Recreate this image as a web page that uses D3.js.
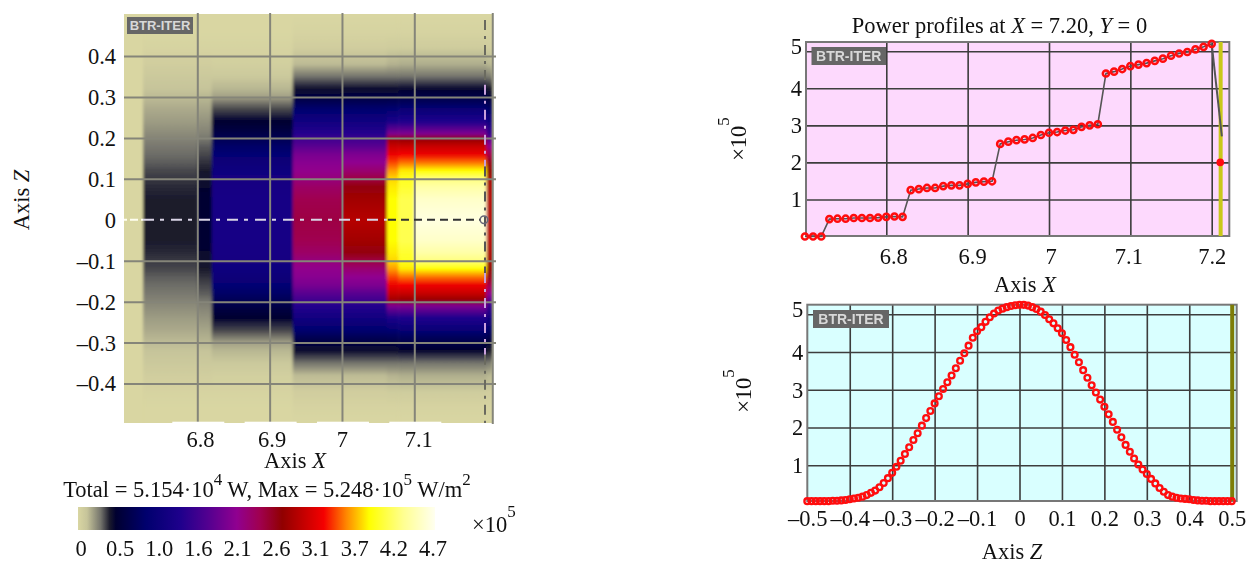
<!DOCTYPE html>
<html><head><meta charset="utf-8">
<script src="https://cdn.jsdelivr.net/npm/d3@7"></script>
<style>
html,body{margin:0;padding:0;background:#fff}
svg{display:block}
text{font-family:"Liberation Serif",serif;fill:#111}
.badge{font-family:"Liberation Sans",sans-serif;font-weight:700;fill:#d8d8d8}
</style></head><body>
<svg id="c" width="1249" height="563"></svg>
<script>
// ---------- heat map data ----------
const zRows = [0,.05,.08,.1,.12,.14,.16,.18,.195,.21,.24,.27,.3,.32,.35,.38,.42,.46,.5];
const xEdges = [6.699,6.725,6.80,6.82,6.932,7.0,7.062,7.078,7.10,7.2,7.2076];
const heatColumns = [
 [0,0,0,0,0,0,0,0,0,0,0,0,0,0,0,0,0,0,0],
 [.42,.42,.40,.38,.36,.33,.31,.29,.27,.25,.21,.18,.14,.12,.09,.06,.02,0,0],
 [.52,.50,.48,.45,.42,.39,.36,.33,.30,.27,.23,.19,.15,.12,.09,.06,.02,0,0],
 [1.25,1.25,1.22,1.18,1.12,1.05,.98,.85,.75,.65,.5,.36,.2,.15,.09,.05,.02,0,0],
 [2.45,2.4,2.3,2.2,2.12,2.05,1.95,1.75,1.6,1.4,1.15,.9,.6,.45,.3,.14,.06,.02,0],
 [2.9,2.8,2.65,2.45,2.25,2.1,1.98,1.75,1.6,1.4,1.15,.9,.62,.46,.3,.14,.06,.02,0],
 [3.85,3.85,3.8,3.75,3.6,3.4,3.2,3.0,2.8,2.0,1.3,.95,.62,.46,.3,.16,.07,.02,0],
 [4.1,4.1,4.0,3.95,3.8,3.5,3.25,3.0,2.75,2.0,1.35,1.0,.65,.48,.3,.17,.07,.02,0],
 [4.65,4.55,4.4,4.25,3.85,3.5,3.2,3.0,2.75,2.0,1.35,1.0,.65,.48,.3,.17,.07,.02,0],
 [2.9,2.9,2.85,2.8,2.7,2.6,2.4,2.1,1.8,1.5,1.15,.85,.55,.42,.28,.15,.06,.02,0]
];
const heatStopValues = [0,.12,.3,.42,.5,.9,1.35,1.7,2.1,2.4,2.7,3.25,3.55,3.85,4.3,4.72];
const heatStopColors = ["#d9d6a2","#c6c49a","#74746c","#1a1a2c","#000030","#00006e","#1e008c","#500090","#900090","#a00050","#900000","#f50000","#ff8800","#ffff00","#ffff90","#fffff0"];
const heatXTicks = [6.8,6.9,7,7.1];
const heatXEdgeLine = 7.2078;
const heatZTicks = [.4,.3,.2,.1,0,-.1,-.2,-.3,-.4];
const colorbarLabels = ["0","0.5","1.0","1.6","2.1","2.6","3.1","3.7","4.2","4.7"];
// ---------- profile along X ----------
const profileXTicks = [6.8,6.9,7,7.1,7.2];
const profileYTicks = [1,2,3,4,5];
const profileX = [6.70,6.71,6.72,6.73,6.74,6.75,6.76,6.77,6.78,6.79,6.80,6.81,6.82,6.83,6.84,6.85,6.86,6.87,6.88,6.89,6.90,6.91,6.92,6.93,6.94,6.95,6.96,6.97,6.98,6.99,7.00,7.01,7.02,7.03,7.04,7.05,7.06,7.07,7.08,7.09,7.10,7.11,7.12,7.13,7.14,7.15,7.16,7.17,7.18,7.19,7.20];
const profileP = [0,0,0,.47,.48,.48,.50,.50,.50,.51,.53,.54,.53,1.25,1.28,1.31,1.31,1.36,1.38,1.38,1.42,1.46,1.48,1.49,2.50,2.56,2.60,2.62,2.66,2.74,2.80,2.82,2.86,2.88,2.96,3.0,3.03,4.40,4.45,4.52,4.60,4.64,4.68,4.74,4.80,4.88,4.94,4.98,5.05,5.12,5.20];
const dropX = [7.20,7.2125], dropP = [5.20,2.7];
const endPointX = 7.2105, endPointP = 2.0;
const profileMarkerLine = 7.211;
// ---------- profile along Z ----------
const zTicks = [-.5,-.4,-.3,-.2,-.1,0,.1,.2,.3,.4,.5];
const zProfile = [.05,.05,.05,.05,.05,.05,.06,.06,.07,.08,
 .10,.12,.14,.17,.21,.27,.33,.42,.53,.66,
 .80,.96,1.12,1.30,1.48,1.67,1.85,2.05,2.25,2.44,
 2.64,2.83,3.02,3.20,3.38,3.57,3.77,3.97,4.17,4.38,
 4.55,4.66,4.80,4.92,5.02,5.10,5.15,5.19,5.22,5.24,
 5.25,
 5.25,5.23,5.19,5.14,5.07,4.98,4.87,4.76,4.63,4.50,
 4.32,4.13,3.93,3.73,3.52,3.32,3.12,2.93,2.74,2.55,
 2.35,2.15,1.94,1.74,1.54,1.36,1.18,1.02,.89,.77,
 .64,.52,.40,.30,.21,.17,.14,.12,.11,.10,
 .08,.07,.06,.06,.05,.05,.05,.05,.05,.05];
const zPositions = zProfile.map((_,i)=>(-50+i)/100);

const FS = 22.5;
const svg = d3.select("#c");
const defs = svg.append("defs");
defs.append("filter").attr("id","soft").attr("x","-2%").attr("y","-2%").attr("width","104%").attr("height","104%")
  .append("feGaussianBlur").attr("stdDeviation",.45);
defs.append("filter").attr("id","heatBlur").attr("x","-5%").attr("y","-5%").attr("width","110%").attr("height","110%")
  .append("feGaussianBlur").attr("stdDeviation","1.8 1");

function rich(parent,x,y,parts,opts={}){
  const t = parent.append("text").attr("x",x).attr("y",y).attr("font-size",opts.size||FS)
    .attr("text-anchor",opts.anchor||"middle");
  if(opts.transform) t.attr("transform",opts.transform);
  let shift=0;
  parts.forEach(p=>{
    const s=t.append("tspan").text(p.t);
    const want=p.sup?(opts.sup||-12):0;
    if(want!==shift){s.attr("dy",want-shift);shift=want;}
    if(p.i) s.attr("font-style","italic");
    if(p.sup) s.attr("font-size",17);
  });
  return t;
}
function badge(g,x,y,w,h,fs){
  g.append("rect").attr("x",x).attr("y",y).attr("width",w).attr("height",h).attr("fill","#666");
  g.append("text").attr("class","badge").attr("x",x+w/2).attr("y",y+h/2+fs*.36)
    .attr("text-anchor","middle").attr("font-size",fs).text("BTR-ITER");
}
const minus = s => s.replace("-","\u2013");

// ================= heat map =================
const hx = d3.scaleLinear().domain([6.8,7.1]).range([197.3,414.3]);
const hz = d3.scaleLinear().domain([.4,-.4]).range([56,383.5]);
const hL=124,hR=493,hT=14,hB=423;
const heatColor = d3.scaleLinear().domain(heatStopValues).range(heatStopColors).clamp(true);
defs.append("clipPath").attr("id","hclip").append("rect").attr("x",hL).attr("y",hT).attr("width",hR-hL).attr("height",hB-hT);
const hg = svg.append("g");
hg.append("rect").attr("x",hL).attr("y",hT).attr("width",hR-hL).attr("height",hB-hT).attr("fill",heatStopColors[0]);
const heatClip = hg.append("g").attr("clip-path","url(#hclip)");
const cells = heatClip.append("g").attr("filter","url(#heatBlur)");
const allZ=[...zRows.slice().reverse(),...zRows.slice(1).map(z=>-z)];
heatColumns.forEach((col,i)=>{
  const vals=[...col.slice().reverse(),...col.slice(1)];
  const id="hc"+i;
  const gr=defs.append("linearGradient").attr("id",id).attr("gradientUnits","userSpaceOnUse")
    .attr("x1",0).attr("x2",0).attr("y1",hz(.5)).attr("y2",hz(-.5));
  allZ.forEach((z,k)=>gr.append("stop").attr("offset",(hz(z)-hz(.5))/(hz(-.5)-hz(.5))).attr("stop-color",heatColor(vals[k])));
  cells.append("rect").attr("x",hx(xEdges[i])).attr("width",hx(xEdges[i+1])-hx(xEdges[i])+.5)
    .attr("y",hz(.5)).attr("height",hz(-.5)-hz(.5)).attr("fill",`url(#${id})`);
});
// grid
const hGrid = hg.append("g").attr("filter","url(#soft)");
hGrid.append("g").attr("transform",`translate(0,${hB+1})`)
  .call(d3.axisBottom(hx).tickValues(heatXTicks.concat([heatXEdgeLine])).tickSize(-(hB-hT+2)).tickFormat(""))
  .call(a=>a.select(".domain").remove())
  .selectAll("line").attr("stroke","#858579").attr("stroke-width",2);
hGrid.append("g").attr("transform",`translate(${hL},0)`)
  .call(d3.axisRight(hz).tickValues(heatZTicks.filter(v=>v!==0)).tickSize(hR+3-hL).tickFormat(""))
  .call(a=>a.select(".domain").remove())
  .selectAll("line").attr("stroke","#858579").attr("stroke-width",2);
heatXTicks.forEach(v=>{ // white chips behind tick labels
  hg.append("rect").attr("x",hx(v)-25).attr("y",421.7).attr("width",52).attr("height",4).attr("fill","#fff");
});
// centre lines: light on the dark parts, dark on the light parts
const softLines = hg.append("g").attr("filter","url(#soft)");
const dashDot="11 6 4 7";
softLines.append("line").attr("x1",124).attr("x2",143).attr("y1",hz(0)).attr("y2",hz(0))
  .attr("stroke","#fffff0").attr("stroke-width",2).attr("stroke-dasharray","3 3 8 3");
softLines.append("line").attr("x1",143).attr("x2",387).attr("y1",hz(0)).attr("y2",hz(0))
  .attr("stroke","#d9d4e6").attr("stroke-width",2).attr("stroke-dasharray",dashDot);
softLines.append("line").attr("x1",388).attr("x2",480).attr("y1",hz(0)).attr("y2",hz(0))
  .attr("stroke","#333").attr("stroke-width",2).attr("stroke-dasharray","8 5");
[[hT+6,hz(.33),"#6b6b5e"],[hz(.33),hz(.13),"#c9a0dc"],[hz(.13),hz(-.13),"#555"],[hz(-.13),hz(-.33),"#c9a0dc"],[hz(-.33),hB,"#6b6b5e"]].forEach(s=>{
  softLines.append("line").attr("x1",485).attr("x2",485).attr("y1",s[0]).attr("y2",s[1])
    .attr("stroke",s[2]).attr("stroke-width",2).attr("stroke-dasharray","10 6 3 6");
});
hg.append("circle").attr("cx",484).attr("cy",hz(0)).attr("r",3.8).attr("fill","none").attr("stroke","#667").attr("stroke-width",1.5);
badge(hg,127,17,66,17,13);
// labels
hg.append("g").attr("transform",`translate(116,0)`)
  .call(d3.axisLeft(hz).tickValues(heatZTicks).tickSize(0).tickPadding(0).tickFormat(v=>minus(String(v))))
  .call(a=>a.select(".domain").remove())
  .selectAll("text").attr("font-size",FS).attr("font-family",null).attr("dy","0.33em");
const heatNudge=[2.7,2,0,4];
hg.append("g").attr("transform",`translate(0,${hB+8})`)
  .call(d3.axisBottom(hx).tickValues(heatXTicks).tickSize(0).tickPadding(0).tickFormat(String))
  .call(a=>a.select(".domain").remove())
  .selectAll("text").attr("font-size",FS).attr("font-family",null).attr("dx",(d,i)=>heatNudge[i]);
rich(svg,0,0,[{t:"Axis "},{t:"Z",i:1}],{transform:"translate(29,200) rotate(-90)"});
rich(svg,295,468,[{t:"Axis "},{t:"X",i:1}]);
rich(svg,267,497,[{t:"Total = 5.154\u00b710"},{t:"4",sup:1},{t:" W, Max = 5.248\u00b710"},{t:"5",sup:1},{t:" W/m"},{t:"2",sup:1}]);
// colour bar
const cb = d3.scaleLinear().domain([0,4.72]).range([78,435]);
const cbg = defs.append("linearGradient").attr("id","cbar");
heatStopValues.forEach((v,i)=>cbg.append("stop").attr("offset",v/4.72).attr("stop-color",heatStopColors[i]));
svg.append("rect").attr("x",cb(0)).attr("y",507).attr("width",cb(4.72)-cb(0)).attr("height",23).attr("fill","url(#cbar)");
const cbL = d3.scalePoint().domain(colorbarLabels).range([81,433]);
svg.append("g").selectAll("text").data(colorbarLabels).join("text")
  .attr("x",d=>cbL(d)).attr("y",556).attr("text-anchor","middle").attr("font-size",FS).text(d=>d);
rich(svg,472,532,[{t:"\u00d710"},{t:"5",sup:1}],{anchor:"start",sup:-15});

// ================= generic profile panel =================
function panel(o){
  const g=svg.append("g");
  g.append("rect").attr("x",o.L).attr("y",o.T).attr("width",o.R-o.L).attr("height",o.B-o.T).attr("fill",o.bg);
  const gg=g.append("g").attr("filter","url(#soft)");
  gg.append("g").attr("transform",`translate(0,${o.B})`)
    .call(d3.axisBottom(o.x).tickValues(o.xTicks).tickSize(-(o.B-o.T)).tickFormat(""))
    .call(a=>a.select(".domain").remove())
    .selectAll("line").attr("stroke","#3c3c3c").attr("stroke-width",1.6);
  gg.append("g").attr("transform",`translate(${o.L},0)`)
    .call(d3.axisRight(o.y).tickValues(o.yTicks).tickSize(o.R-o.L).tickFormat(""))
    .call(a=>a.select(".domain").remove())
    .selectAll("line").attr("stroke","#3c3c3c").attr("stroke-width",1.6);
  gg.append("rect").attr("x",o.L).attr("y",o.T).attr("width",o.R-o.L).attr("height",o.B-o.T)
    .attr("fill","none").attr("stroke","#777").attr("stroke-width",2);
  // labels
  g.append("g").attr("transform",`translate(${o.L-4},0)`)
    .call(d3.axisLeft(o.y).tickValues(o.yTicks).tickSize(0).tickPadding(0).tickFormat(String))
    .call(a=>a.select(".domain").remove())
    .selectAll("text").attr("font-size",FS).attr("font-family",null).attr("dy",(d)=>d===5?"0.1em":"0.33em");
  g.append("g").attr("transform",`translate(0,${o.labelY})`)
    .call(d3.axisBottom(o.x).tickValues(o.xTicks).tickSize(0).tickPadding(0).tickFormat(v=>minus(String(v))))
    .call(a=>a.select(".domain").remove())
    .selectAll("text").attr("font-size",FS).attr("font-family",null).attr("dx",(d,i)=>o.nudge?o.nudge[i]:0);
  return g;
}
function markers(g,xs,ys,x,y,r,w){
  g.append("g").attr("filter","url(#soft)").selectAll("circle").data(xs).join("circle")
    .attr("cx",d=>x(d)).attr("cy",(d,i)=>y(ys[i])).attr("r",r)
    .attr("fill","none").attr("stroke","#ff0a10").attr("stroke-width",w);
}

// top right
const px = d3.scaleLinear().domain([6.8,7.2]).range([886.3,1211.7]);
const py = d3.scaleLinear().domain([0,5.25]).range([236.5,42]);
const pg = panel({L:806,R:1229.3,T:42,B:236,bg:"#fdd9fd",x:px,y:py,xTicks:profileXTicks,yTicks:profileYTicks,labelY:248,nudge:[7,4.5,1.5,-2,0]});
pg.append("line").attr("x1",px(profileMarkerLine)).attr("x2",px(profileMarkerLine)).attr("y1",42).attr("y2",236)
  .attr("stroke","#c9c81a").attr("stroke-width",4);
const pline = d3.line().x(d=>px(d)).y((d,i)=>py(profileP[i]));
pg.append("path").attr("d",pline(profileX)).attr("fill","none").attr("stroke","#555").attr("stroke-width",1.6);
pg.append("path").attr("d",d3.line().x(d=>px(d)).y((d,i)=>py(dropP[i]))(dropX)).attr("fill","none").attr("stroke","#555").attr("stroke-width",2);
markers(pg,profileX,profileP,px,py,3.1,2.5);
pg.append("circle").attr("cx",px(endPointX)).attr("cy",py(endPointP)).attr("r",3.8).attr("fill","#ff0a10");
badge(pg,811.5,47,74.5,18,14);
rich(svg,999.5,33,[{t:"Power profiles at "},{t:"X",i:1},{t:" = 7.20, "},{t:"Y",i:1},{t:" = 0"}]);
rich(svg,1025,292,[{t:"Axis "},{t:"X",i:1}]);
rich(svg,0,0,[{t:"\u00d710"},{t:"5",sup:1}],{transform:"translate(746,139) rotate(-90)",sup:-17});

// bottom right
const zx = d3.scaleLinear().domain([-.5,.5]).range([807.3,1231.7]);
const zy = d3.scaleLinear().domain([1,5]).range([465.3,314.3]);
const zg = panel({L:807.3,R:1236.7,T:304.7,B:501,bg:"#d9ffff",x:zx,y:zy,xTicks:zTicks.slice(1,10),yTicks:profileYTicks,labelY:510});
zg.append("line").attr("x1",zx(.5)+.5).attr("x2",zx(.5)+.5).attr("y1",304.7).attr("y2",501)
  .attr("stroke","#7d7d08").attr("stroke-width",4);
zg.append("g").attr("transform","translate(0,510)")
  .call(d3.axisBottom(zx).tickValues([-.5,.5]).tickSize(0).tickPadding(0).tickFormat(v=>minus(String(v))))
  .call(a=>a.select(".domain").remove())
  .selectAll("text").attr("font-size",FS).attr("font-family",null);
markers(zg,zPositions,zProfile,zx,zy,2.9,2.3);
badge(zg,813,310,76,18,14);
rich(svg,1012,559,[{t:"Axis "},{t:"Z",i:1}]);
rich(svg,0,0,[{t:"\u00d710"},{t:"5",sup:1}],{transform:"translate(751,391) rotate(-90)",sup:-17});
</script>
</body></html>
